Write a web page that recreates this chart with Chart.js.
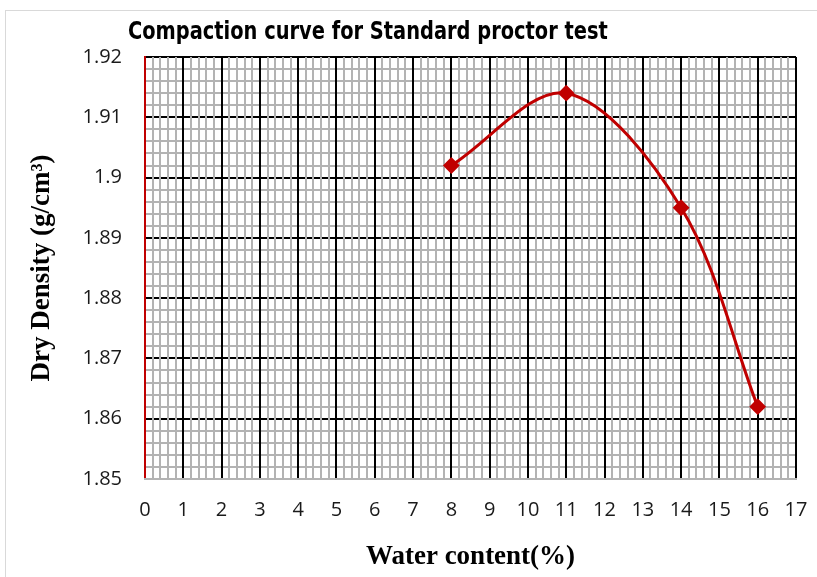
<!DOCTYPE html>
<html>
<head>
<meta charset="utf-8">
<script src="https://cdn.jsdelivr.net/npm/chart.js@4.4.1/dist/chart.umd.min.js"></script>
<style>
  body { margin: 0; background: #fff; }
  #wrap { position: relative; width: 817px; height: 577px; overflow: hidden; }
  #frame { position: absolute; left: 5px; top: 10px; width: 830px; height: 600px; border: 1px solid #d9d9d9; }
  #title {
    position: absolute; left: 128px; top: 18px; white-space: nowrap;
    font: bold 25px "Liberation Sans Narrow", "DejaVu Sans Condensed", "Liberation Sans", sans-serif;
    line-height: 25px; color: #000; transform-origin: 0 0;
  }
  canvas { position: absolute; left: 0; top: 0; }
</style>
</head>
<body>
<div id="wrap">
  <div id="frame"></div>
  <canvas id="chartCanvas" width="817" height="577"></canvas>
  <div id="title">Compaction curve for Standard proctor test</div>
</div>
<script>
const waterContent = [8, 11, 14, 16];
const dryDensity = [1.902, 1.914, 1.895, 1.862];

const xMin = 0, xMax = 17;
const yMin = 1.85, yMax = 1.92;

// squeeze the title to the width it has in the picture
const titleEl = document.getElementById("title");
titleEl.style.transform = `scaleX(${480 / titleEl.offsetWidth})`;

const points = waterContent.map((w, i) => ({ x: w, y: dryDensity[i] }));

const tickFont = { family: "'Open Sans', 'Liberation Sans', sans-serif", size: 20 };
const axisTitleFont = { family: "'Liberation Serif', 'Times New Roman', serif", size: 27, weight: "bold" };

// the last x label would otherwise eat into the plot width
function noSidePadding(scale) {
  scale.paddingLeft = 0;
  scale.paddingRight = 0;
}

const ctx = document.getElementById("chartCanvas").getContext("2d");

new Chart(ctx, {
  type: "line",
  data: {
    datasets: [
      {
        label: "Dry density",
        data: points,
        xAxisID: "x",
        yAxisID: "y",
        borderColor: "#c00000",
        backgroundColor: "#c00000",
        borderWidth: 3,
        tension: 0.33,
        pointStyle: "rectRot",
        pointRadius: 7,
        pointBorderWidth: 2,
        pointBorderColor: "#c00000",
        pointBackgroundColor: "#c00000",
        fill: false,
      },
    ],
  },
  options: {
    responsive: false,
    animation: false,
    layout: { padding: { left: 0, right: 21, top: 57, bottom: 0 } },
    plugins: {
      legend: { display: false },
      title: { display: false },
      tooltip: { enabled: false },
    },
    scales: {
      // minor grid first, so the black major lines lie on top
      yMinor: {
        axis: "y",
        type: "linear",
        position: "left",
        min: yMin,
        max: yMax,
        ticks: { display: false, stepSize: 0.002 },
        grid: { color: "#b3b3b3", lineWidth: 2, drawTicks: false, z: -4 },
        border: { display: false },
      },
      y: {
        type: "linear",
        position: "left",
        min: yMin,
        max: yMax,
        afterFit: (scale) => { scale.width = 145; },
        ticks: {
          stepSize: 0.01,
          padding: 23,
          color: "#1a1a1a",
          font: tickFont,
          callback: (value) => String(Number(value.toFixed(2))),
        },
        grid: {
          color: (c) => (c.index === 0 ? "rgba(0,0,0,0)" : "#000"),
          lineWidth: 2,
          drawTicks: false,
          z: -3,
        },
        border: { color: "#c00000", width: 2 },
        title: {
          display: true,
          text: "Dry Density (g/cm³)",
          color: "#000",
          font: axisTitleFont,
          padding: { top: 26, bottom: 0 },
        },
      },
      xMinor: {
        axis: "x",
        type: "linear",
        position: "bottom",
        min: xMin,
        max: xMax,
        afterFit: noSidePadding,
        ticks: { display: false, stepSize: 0.2 },
        grid: { color: "#b3b3b3", lineWidth: 2, drawTicks: false, z: -2 },
        border: { display: false },
      },
      x: {
        type: "linear",
        position: "bottom",
        min: xMin,
        max: xMax,
        afterFit: (scale) => {
          scale.height = 98;
          noSidePadding(scale);
        },
        ticks: {
          stepSize: 1,
          padding: 19,
          color: "#1a1a1a",
          font: tickFont,
          autoSkip: false,
          maxRotation: 0,
        },
        grid: { color: "#000", lineWidth: 2, drawTicks: false, z: -1 },
        border: { color: "#b3b3b3", width: 2 },
        title: {
          display: true,
          text: "Water content(%)",
          color: "#000",
          font: axisTitleFont,
          padding: { top: 0, bottom: 4 },
        },
      },
    },
  },
});
</script>
</body>
</html>
